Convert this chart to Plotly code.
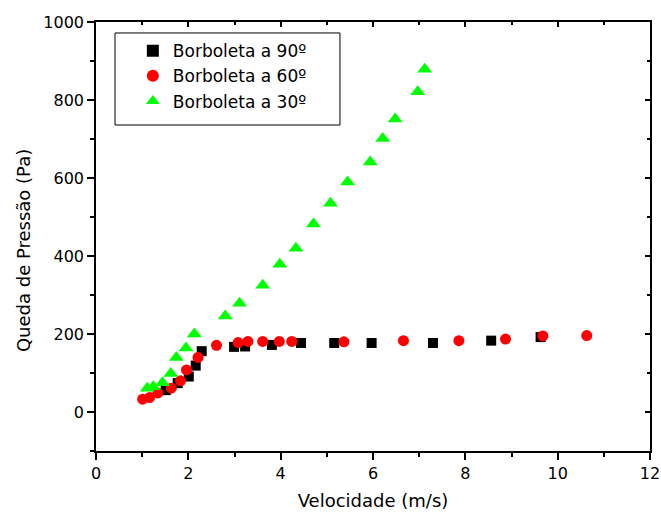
import plotly.graph_objects as go

# Borboleta a 90º
v90 = [1.51, 1.77, 2.01, 2.16, 2.29, 2.99, 3.23, 3.81, 4.44, 5.16, 5.97, 7.30, 8.56, 9.63]
p90 = [56, 74, 91, 119, 156, 167, 168, 172, 177, 177, 177, 177, 183, 192]

# Borboleta a 60º
v60 = [1.01, 1.16, 1.34, 1.63, 1.83, 1.96, 2.21, 2.61, 3.08, 3.29, 3.61, 3.97, 4.24,
       5.37, 6.66, 7.86, 8.87, 9.68, 10.63]
p60 = [33, 37, 49, 61, 80, 108, 140, 171, 178, 181, 181, 181, 181,
       180, 183, 183, 187, 195, 196]

# Borboleta a 30º
v30 = [1.11, 1.24, 1.44, 1.62, 1.74, 1.95, 2.13, 2.80, 3.11, 3.61, 3.98, 4.33, 4.71,
       5.08, 5.45, 5.94, 6.21, 6.48, 6.97, 7.12]
p30 = [61, 65, 75, 99, 140, 164, 200, 246, 279, 325, 379, 420, 482,
       535, 590, 641, 701, 751, 821, 879]

names = ["Borboleta a 90º", "Borboleta a 60º", "Borboleta a 30º"]
x_title = "Velocidade (m/s)"
y_title = "Queda de Pressão (Pa)"

FONT = "DejaVu Sans, sans-serif"

fig = go.Figure()
fig.add_trace(go.Scatter(x=v90, y=p90, mode="markers", name=names[0],
                         marker=dict(symbol="square", size=10, color="black")))
fig.add_trace(go.Scatter(x=v60, y=p60, mode="markers", name=names[1],
                         marker=dict(symbol="circle", size=11, color="red")))
fig.add_trace(go.Scatter(x=v30, y=p30, mode="markers", name=names[2],
                         marker=dict(symbol="triangle-up", size=13, color="#00ff00")))
# empty helper trace so the mirrored top/right axes get drawn
fig.add_trace(go.Scatter(x=[], y=[], xaxis="x2", yaxis="y2", showlegend=False,
                         hoverinfo="skip"))

axis_common = dict(showgrid=False, zeroline=False, showline=True, linecolor="black",
                   linewidth=1.5, tickcolor="black", tickwidth=1.5, automargin=False)

fig.update_layout(
    width=661, height=519,
    margin=dict(l=96, r=11, t=22, b=68),
    paper_bgcolor="white", plot_bgcolor="white",
    font=dict(family=FONT, size=16, color="black"),
    xaxis=dict(range=[0, 12], dtick=2, tick0=0, ticks="outside", ticklen=7,
               minor=dict(dtick=1, ticks="outside", ticklen=4, tickcolor="black", tickwidth=1.5),
               title=dict(text=x_title, font=dict(size=18), standoff=12),
               tickfont=dict(size=16), ticklabeloverflow="allow", **axis_common),
    yaxis=dict(range=[-100, 1000], dtick=200, tick0=0, ticks="outside", ticklen=7,
               minor=dict(dtick=100, ticks="outside", ticklen=4, tickcolor="black", tickwidth=1.5),
               tickfont=dict(size=16), **axis_common),
    xaxis2=dict(range=[0, 12], dtick=2, tick0=0, overlaying="x", side="top", anchor="y2",
                ticks="inside", ticklen=5, showticklabels=False,
                minor=dict(dtick=1, ticks="inside", ticklen=3, tickcolor="black", tickwidth=1.5),
                **axis_common),
    yaxis2=dict(range=[-100, 1000], dtick=200, tick0=0, overlaying="y", side="right", anchor="x2",
                ticks="inside", ticklen=5, showticklabels=False,
                minor=dict(dtick=100, ticks="inside", ticklen=3, tickcolor="black", tickwidth=1.5),
                **axis_common),
    legend=dict(x=0.034, y=0.974, xanchor="left", yanchor="top",
                bgcolor="rgba(0,0,0,0)", borderwidth=0,
                font=dict(size=17), tracegroupgap=0, itemsizing="constant",
                indentation=18),
    shapes=[dict(type="rect", xref="paper", yref="paper",
                 x0=0.0343, x1=0.4404, y0=0.7599, y1=0.9744,
                 line=dict(color="black", width=1), fillcolor="white", layer="above")],
    annotations=[dict(text=y_title, textangle=-90, xref="paper", yref="paper",
                      x=-0.132, y=0.468, xanchor="center", yanchor="middle",
                      showarrow=False, font=dict(size=18))],
    showlegend=True,
)

fig.write_html("out.html")
